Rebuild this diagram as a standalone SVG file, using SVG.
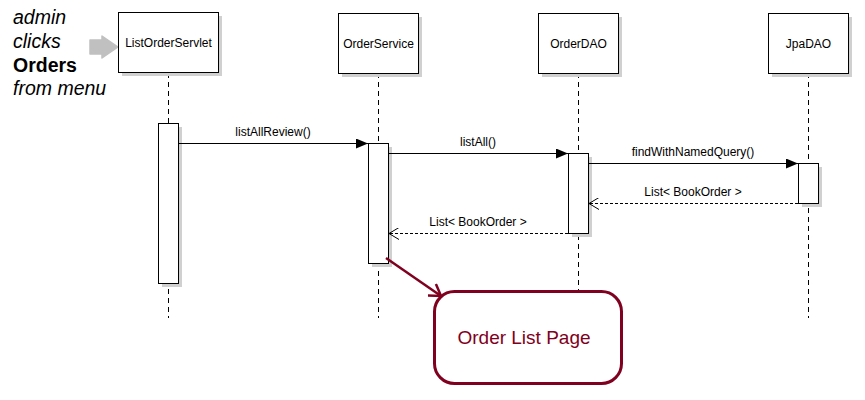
<svg xmlns="http://www.w3.org/2000/svg" width="865" height="400" viewBox="0 0 865 400">
<style>
text{font-family:"Liberation Sans",Arial,sans-serif;fill:#000}
.lbl{font-size:12px;text-anchor:middle}
.head{fill:#fff;stroke:#000;stroke-width:1}
.shadow{fill:#d0d0d0}
.life{stroke:#000;stroke-width:1;stroke-dasharray:5,4;fill:none}
.act{fill:#fff;stroke:#000;stroke-width:1}
.msg{stroke:#000;stroke-width:1;fill:none}
.ret{stroke:#000;stroke-width:1;fill:none;stroke-dasharray:3,2}
.note{font-size:19.5px}
</style>
<defs>
<marker id="sync" markerWidth="12" markerHeight="10" refX="12" refY="5" orient="auto" markerUnits="userSpaceOnUse">
<path d="M0,0 L12,5 L0,10 z" fill="#000"/>
</marker>
<marker id="open" markerWidth="10" markerHeight="12" refX="10" refY="6" orient="auto" markerUnits="userSpaceOnUse">
<path d="M0,0 L10,6 L0,12" fill="none" stroke="#000" stroke-width="1"/>
</marker>
<marker id="red" markerWidth="16" markerHeight="16" refX="14" refY="8" orient="auto" markerUnits="userSpaceOnUse">
<path d="M3,1 L14,8 L3,15" fill="none" stroke="#800020" stroke-width="2.5"/>
</marker>
</defs>
<rect width="865" height="400" fill="#fff"/>

<g id="trigger">
<text x="13" y="24" class="note" font-style="italic">admin</text>
<text x="13" y="48" class="note" font-style="italic">clicks</text>
<text x="13" y="72" class="note" font-weight="bold">Orders</text>
<text x="13" y="95" class="note" font-style="italic">from menu</text>
<path d="M90,40 L102,40 L102,36 L118,47 L102,58 L102,54 L90,54 z" fill="#c0c0c0" stroke="#c0c0c0" stroke-linejoin="round" stroke-width="1.5"/>
</g>

<g id="ListOrderServlet">
<line class="life" x1="168.5" y1="73" x2="168.5" y2="318"/>
<rect class="shadow" x="122" y="16" width="100" height="60"/>
<rect class="head" x="118.5" y="12.5" width="100" height="60"/>
<text class="lbl" x="168.5" y="47">ListOrderServlet</text>
<rect class="shadow" x="162" y="127" width="20" height="160"/>
<rect class="act" x="158.5" y="123.5" width="20" height="160"/>
</g>

<g id="OrderService">
<line class="life" x1="378.5" y1="73" x2="378.5" y2="318"/>
<rect class="shadow" x="342" y="17" width="80" height="60"/>
<rect class="head" x="338.5" y="13.5" width="80" height="60"/>
<text class="lbl" x="378.5" y="48">OrderService</text>
<rect class="shadow" x="372" y="147" width="20" height="120"/>
<rect class="act" x="368.5" y="143.5" width="20" height="120"/>
</g>

<g id="OrderDAO">
<line class="life" x1="578.5" y1="73" x2="578.5" y2="318"/>
<rect class="shadow" x="542" y="17" width="80" height="60"/>
<rect class="head" x="538.5" y="13.5" width="80" height="60"/>
<text class="lbl" x="578.5" y="48">OrderDAO</text>
<rect class="shadow" x="572" y="157" width="20" height="80"/>
<rect class="act" x="568.5" y="153.5" width="20" height="80"/>
</g>

<g id="JpaDAO">
<line class="life" x1="808.5" y1="73" x2="808.5" y2="318"/>
<rect class="shadow" x="772" y="17" width="80" height="60"/>
<rect class="head" x="768.5" y="13.5" width="80" height="60"/>
<text class="lbl" x="808.5" y="48">JpaDAO</text>
<rect class="shadow" x="802" y="167" width="20" height="40"/>
<rect class="act" x="798.5" y="163.5" width="20" height="40"/>
</g>

<g id="OrderListPage">
<rect x="434.5" y="291.5" width="187" height="92" rx="20" ry="20" fill="#fff" stroke="#800020" stroke-width="3"/>
<text x="524" y="344" font-size="19" text-anchor="middle" style="fill:#800020">Order List Page</text>
</g>

<g id="connectors">
<line class="msg" x1="179" y1="143.5" x2="368" y2="143.5" marker-end="url(#sync)"/>
<text class="lbl" x="273" y="136">listAllReview()</text>
<line class="msg" x1="389" y1="153.5" x2="568" y2="153.5" marker-end="url(#sync)"/>
<text class="lbl" x="478" y="146">listAll()</text>
<line class="msg" x1="589" y1="163.5" x2="798" y2="163.5" marker-end="url(#sync)"/>
<text class="lbl" x="693" y="156">findWithNamedQuery()</text>
<line class="ret" x1="798" y1="203.5" x2="589" y2="203.5" marker-end="url(#open)"/>
<text class="lbl" x="693" y="196">List&lt; BookOrder &gt;</text>
<line class="ret" x1="568" y1="233.5" x2="389" y2="233.5" marker-end="url(#open)"/>
<text class="lbl" x="478" y="226">List&lt; BookOrder &gt;</text>
<line x1="386" y1="258" x2="441" y2="296" stroke="#800020" stroke-width="2.5" marker-end="url(#red)"/>
</g>
</svg>
